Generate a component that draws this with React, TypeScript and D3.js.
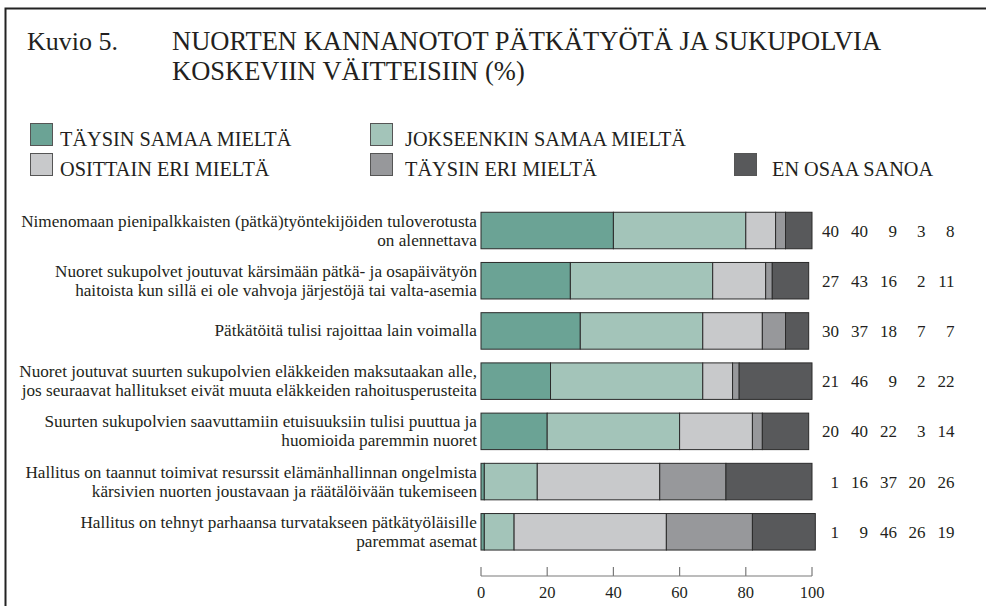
import React from "react";
import * as d3 from "d3";

const W = 986;
const H = 606;

const titleLead = "Kuvio 5.";
const titleLines = [
  "NUORTEN KANNANOTOT PÄTKÄTYÖTÄ JA SUKUPOLVIA",
  "KOSKEVIIN VÄITTEISIIN (%)",
];

const seriesNames = [
  "TÄYSIN SAMAA MIELTÄ",
  "JOKSEENKIN SAMAA MIELTÄ",
  "OSITTAIN ERI MIELTÄ",
  "TÄYSIN ERI MIELTÄ",
  "EN OSAA SANOA",
];

const seriesColors = ["#6ba395", "#a3c4b9", "#c8c9cb", "#97989b", "#58595b"];

const statements = [
  ["Nimenomaan pienipalkkaisten (pätkä)työntekijöiden tuloverotusta", "on alennettava"],
  ["Nuoret sukupolvet joutuvat kärsimään pätkä- ja osapäivätyön", "haitoista kun sillä ei ole vahvoja järjestöjä tai valta-asemia"],
  ["Pätkätöitä tulisi rajoittaa lain voimalla"],
  ["Nuoret joutuvat suurten sukupolvien eläkkeiden maksutaakan alle,", "jos seuraavat hallitukset eivät muuta eläkkeiden rahoitusperusteita"],
  ["Suurten sukupolvien saavuttamiin etuisuuksiin tulisi puuttua ja", "huomioida paremmin nuoret"],
  ["Hallitus on taannut toimivat resurssit elämänhallinnan ongelmista", "kärsivien nuorten joustavaan ja räätälöivään tukemiseen"],
  ["Hallitus on tehnyt parhaansa turvatakseen pätkätyöläisille", "paremmat asemat"],
];

// Percentages per statement, in series order
const taysinSamaa = [40, 27, 30, 21, 20, 1, 1];
const jokseenkinSamaa = [40, 43, 37, 46, 40, 16, 9];
const osittainEri = [9, 16, 18, 9, 22, 37, 46];
const taysinEri = [3, 2, 7, 2, 3, 20, 26];
const enOsaa = [8, 11, 7, 22, 14, 26, 19];

const xTicks = [0, 20, 40, 60, 80, 100];

const FONT = "Liberation Serif, DejaVu Serif, serif";

export default function App() {
  const series = [taysinSamaa, jokseenkinSamaa, osittainEri, taysinEri, enOsaa];
  const rows = statements.map((_, i) => series.map((s) => s[i]));

  const x = d3.scaleLinear().domain([0, 100]).range([481, 812]);
  const y = d3
    .scaleBand<number>()
    .domain(d3.range(statements.length))
    .range([205.4, 556.9])
    .paddingInner(0.273)
    .paddingOuter(0.1365);
  const bw = y.bandwidth();

  const valueCols = [839, 868, 897, 925.5, 954.5];

  // legend swatch position and label x for each entry
  const legendPos: [number, number, number][] = [
    [30, 123, 60],
    [370, 123, 405],
    [30, 153, 60],
    [370, 153, 405],
    [734, 153, 772],
  ];

  const axisY = 576;
  const ink = "#231f20";

  return (
    <svg
      width={W}
      height={H}
      style={{ position: "absolute", left: 0, top: 0, display: "block", background: "#fff", fontFamily: FONT }}
    >
      <rect width={W} height={H} fill="#fff" />
      {/* frame */}
      <path d={`M${W},8.5 H5.5 V${H}`} fill="none" stroke="#232323" strokeWidth={2} />

      {/* title */}
      <text x={27} y={50} fontSize={26} fill={ink}>{titleLead}</text>
      {titleLines.map((t, i) => (
        <text key={i} x={172} y={50 + i * 30} fontSize={26.5} fill={ink}>{t}</text>
      ))}

      {/* legend */}
      {seriesNames.map((name, i) => {
        const [lx, ly, tx] = legendPos[i];
        return (
          <g key={name}>
            <rect x={lx + 0.5} y={ly + 0.5} width={22} height={22} fill={seriesColors[i]} stroke="#555" strokeWidth={1} />
            <text x={tx} y={ly + 22.5} fontSize={20.3} fill={ink}>{name}</text>
          </g>
        );
      })}

      {/* bars */}
      {rows.map((vals, r) => {
        const y0 = y(r)!;
        let acc = 0;
        const segs = vals.map((v, k) => {
          const a = acc;
          acc += v;
          return { a, b: acc, k };
        });
        return (
          <g key={r}>
            {segs.map(({ a, b, k }) => (
              <rect
                key={k}
                x={x(a)}
                y={y0}
                width={x(b) - x(a)}
                height={bw}
                fill={seriesColors[k]}
                stroke="#2b2b2b"
                strokeWidth={1}
              />
            ))}
            {vals.map((v, k) => (
              <text
                key={k}
                x={valueCols[k]}
                y={y0 + bw / 2 + 6}
                textAnchor="end"
                fontSize={17}
                fill={ink}
              >
                {v}
              </text>
            ))}
            {statements[r].map((line, li) => {
              const n = statements[r].length;
              const base = y0 + bw / 2 + 5.5 + (li - (n - 1) / 2) * 19;
              return (
                <text key={li} x={477} y={base} textAnchor="end" fontSize={17.2} fill={ink}>
                  {line}
                </text>
              );
            })}
          </g>
        );
      })}

      {/* axis */}
      <line x1={x(0)} x2={x(100)} y1={axisY} y2={axisY} stroke="#7a7a7a" strokeWidth={1.2} />
      {xTicks.map((t) => (
        <g key={t}>
          <line x1={x(t)} x2={x(t)} y1={axisY} y2={axisY - 9} stroke="#7a7a7a" strokeWidth={1.2} />
          <text x={x(t)} y={axisY + 22} textAnchor="middle" fontSize={16.5} fill={ink}>{t}</text>
        </g>
      ))}
    </svg>
  );
}
